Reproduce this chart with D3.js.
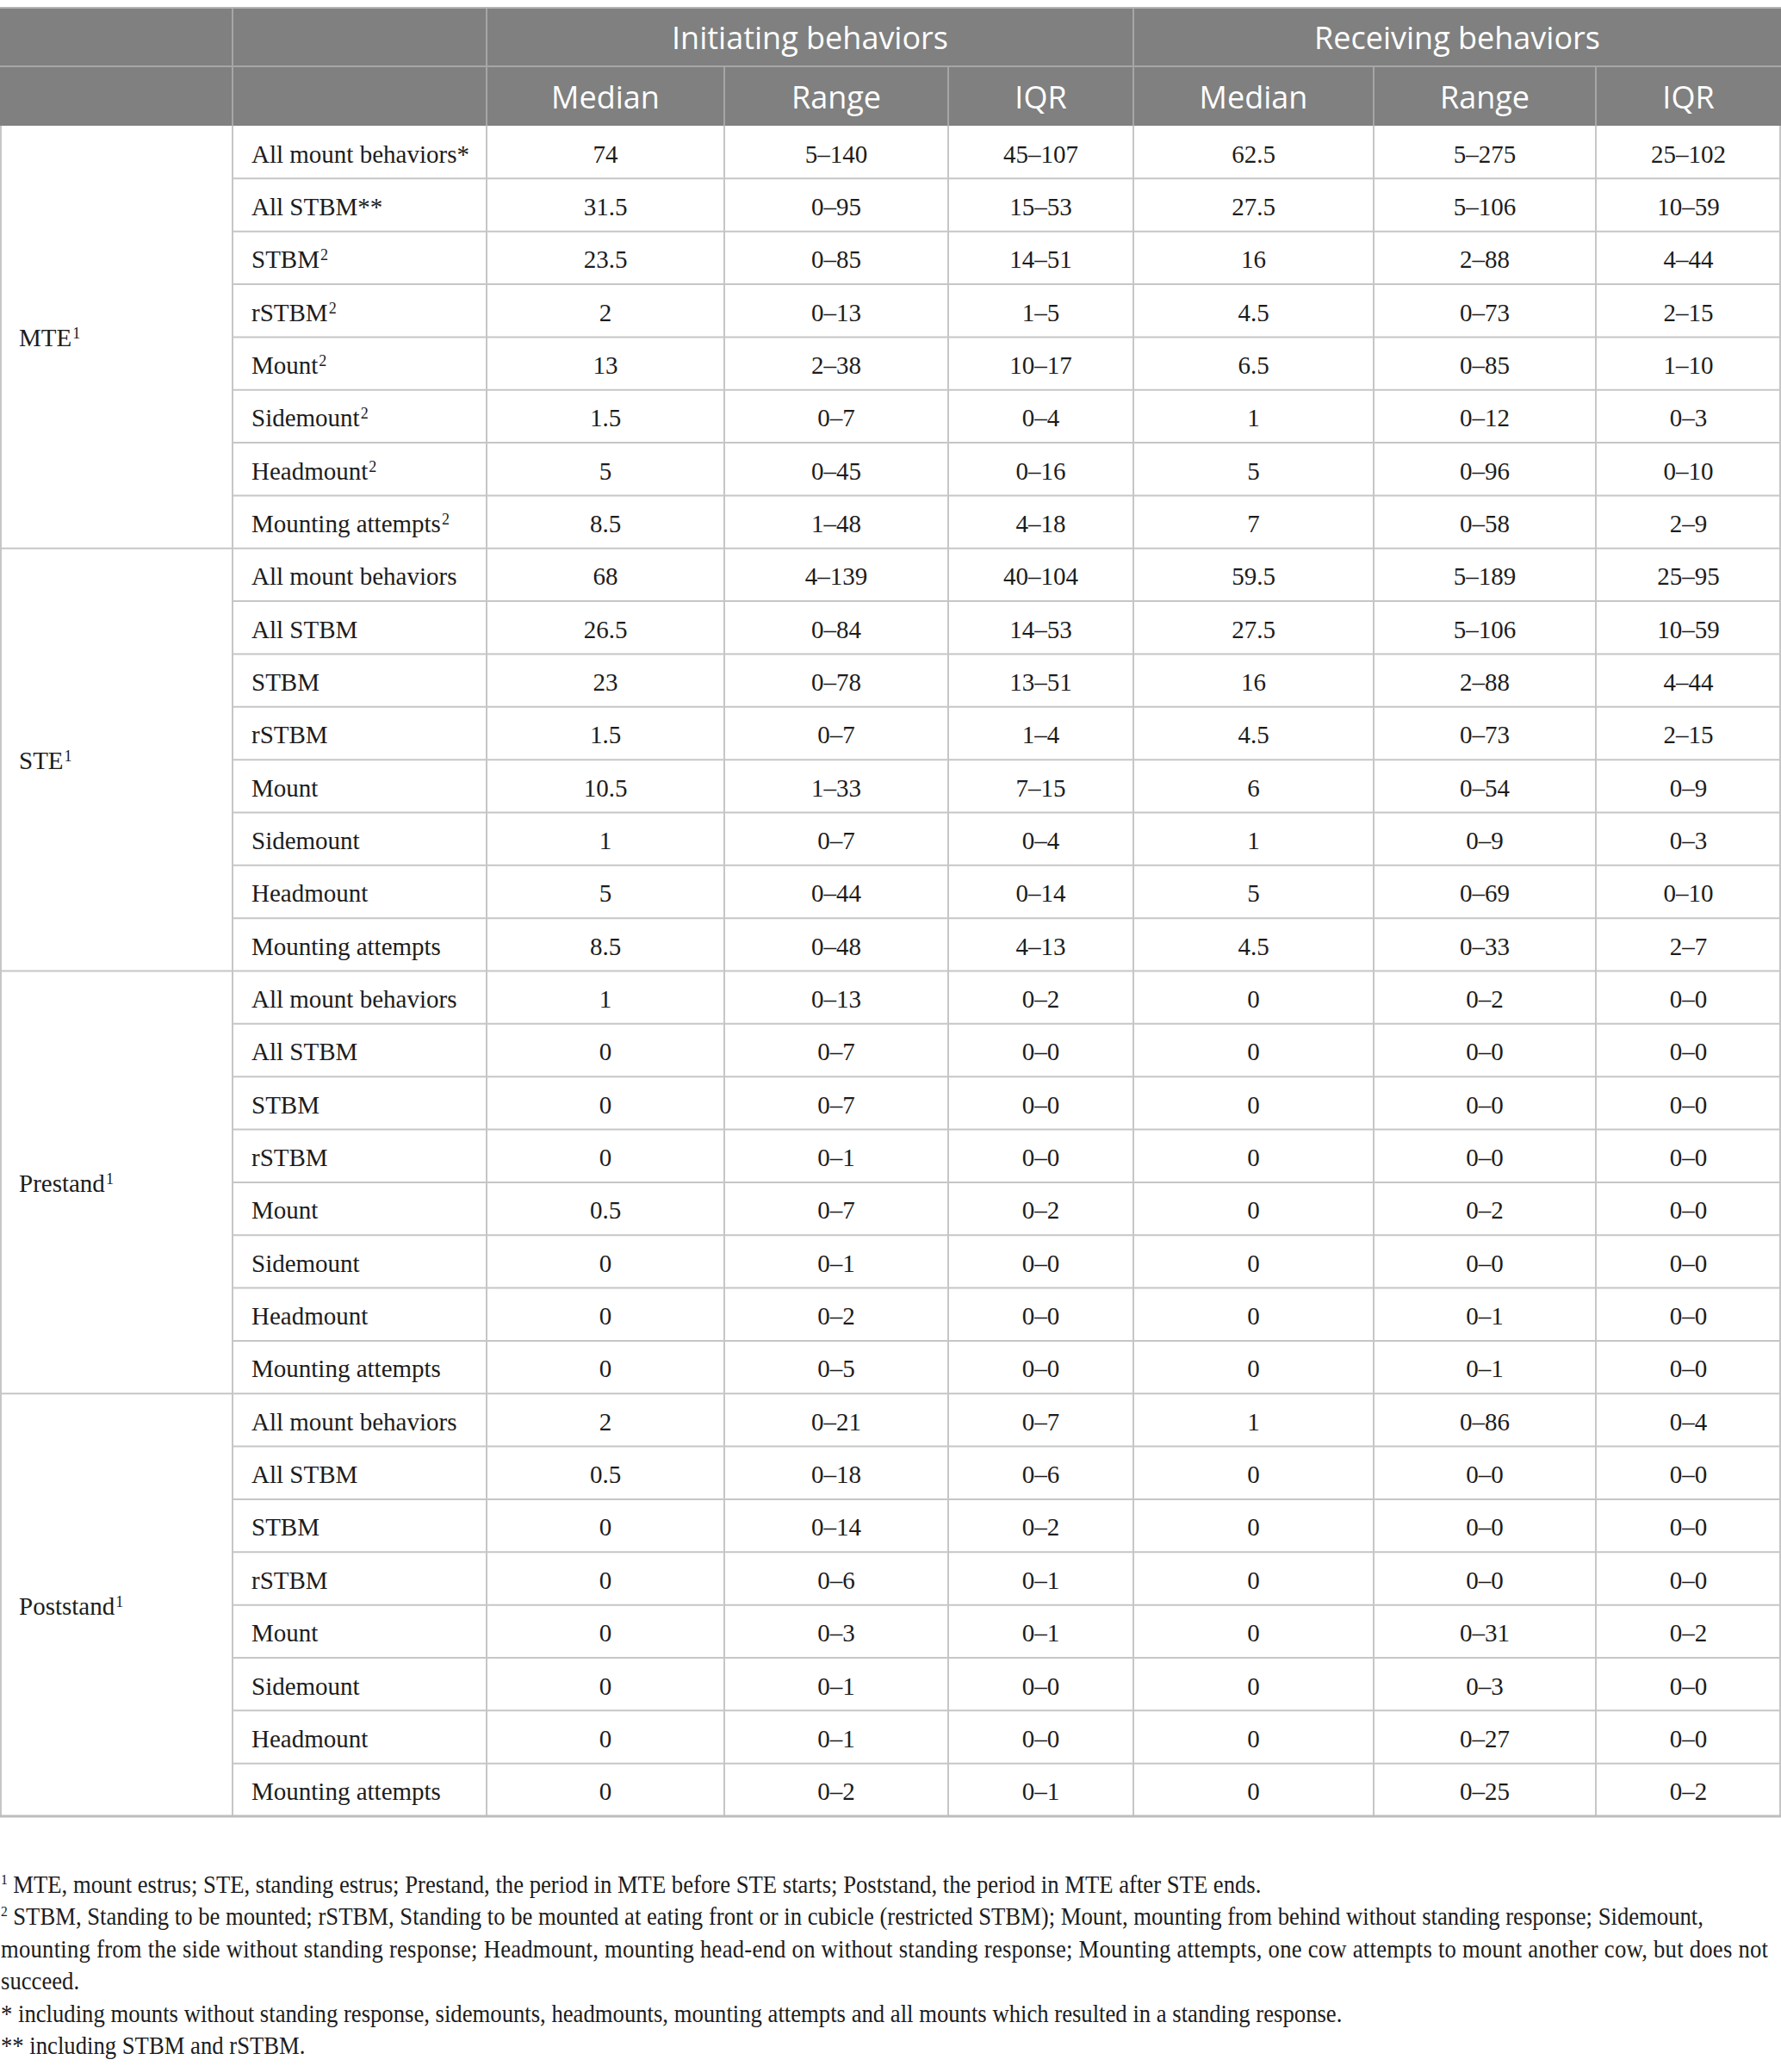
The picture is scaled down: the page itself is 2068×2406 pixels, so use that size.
<!DOCTYPE html>
<html>
<head>
<meta charset="utf-8">
<script src="https://cdn.jsdelivr.net/npm/d3@7/dist/d3.min.js"></script>
<style>
  html, body { margin: 0; padding: 0; background: #fff; }
  svg { display: block; }
</style>
</head>
<body>
<div id="table"></div>
<script>
// ━━━━━━━━━━━━━━━━━━━━━━━━━━━━━━━━━━━━━━━━━━━━━━━━━━━━━━━━━━━━━━━━━━━━━━━━━━━━━━
// Data //////////////////////////////////////////////////////////////////////////
// ━━━━━━━━━━━━━━━━━━━━━━━━━━━━━━━━━━━━━━━━━━━━━━━━━━━━━━━━━━━━━━━━━━━━━━━━━━━━━━

const groups = ['MTE', 'STE', 'Prestand', 'Poststand'];
const groupNote = '1';
const behaviors = ['All mount behaviors', 'All STBM', 'STBM', 'rSTBM', 'Mount', 'Sidemount', 'Headmount', 'Mounting attempts'];
// only the MTE block carries the marks after the behavior name
const mteMarks = [{ t: '*', sup: false }, { t: '**', sup: false }, { t: '2', sup: true }, { t: '2', sup: true },
                  { t: '2', sup: true }, { t: '2', sup: true }, { t: '2', sup: true }, { t: '2', sup: true }];

const superHeaders = ['Initiating behaviors', 'Receiving behaviors'];
const subHeaders = ['Median', 'Range', 'IQR', 'Median', 'Range', 'IQR'];

const initMedian = ['74', '31.5', '23.5', '2', '13', '1.5', '5', '8.5',
                    '68', '26.5', '23', '1.5', '10.5', '1', '5', '8.5',
                    '1', '0', '0', '0', '0.5', '0', '0', '0',
                    '2', '0.5', '0', '0', '0', '0', '0', '0'];
const initRange  = ['5–140', '0–95', '0–85', '0–13', '2–38', '0–7', '0–45', '1–48',
                    '4–139', '0–84', '0–78', '0–7', '1–33', '0–7', '0–44', '0–48',
                    '0–13', '0–7', '0–7', '0–1', '0–7', '0–1', '0–2', '0–5',
                    '0–21', '0–18', '0–14', '0–6', '0–3', '0–1', '0–1', '0–2'];
const initIQR    = ['45–107', '15–53', '14–51', '1–5', '10–17', '0–4', '0–16', '4–18',
                    '40–104', '14–53', '13–51', '1–4', '7–15', '0–4', '0–14', '4–13',
                    '0–2', '0–0', '0–0', '0–0', '0–2', '0–0', '0–0', '0–0',
                    '0–7', '0–6', '0–2', '0–1', '0–1', '0–0', '0–0', '0–1'];
const recvMedian = ['62.5', '27.5', '16', '4.5', '6.5', '1', '5', '7',
                    '59.5', '27.5', '16', '4.5', '6', '1', '5', '4.5',
                    '0', '0', '0', '0', '0', '0', '0', '0',
                    '1', '0', '0', '0', '0', '0', '0', '0'];
const recvRange  = ['5–275', '5–106', '2–88', '0–73', '0–85', '0–12', '0–96', '0–58',
                    '5–189', '5–106', '2–88', '0–73', '0–54', '0–9', '0–69', '0–33',
                    '0–2', '0–0', '0–0', '0–0', '0–2', '0–0', '0–1', '0–1',
                    '0–86', '0–0', '0–0', '0–0', '0–31', '0–3', '0–27', '0–25'];
const recvIQR    = ['25–102', '10–59', '4–44', '2–15', '1–10', '0–3', '0–10', '2–9',
                    '25–95', '10–59', '4–44', '2–15', '0–9', '0–3', '0–10', '2–7',
                    '0–0', '0–0', '0–0', '0–0', '0–0', '0–0', '0–0', '0–0',
                    '0–4', '0–0', '0–0', '0–0', '0–2', '0–0', '0–0', '0–2'];

const footnotes = [
  { mark: '1', text: 'MTE, mount estrus; STE, standing estrus; Prestand, the period in MTE before STE starts; Poststand, the period in MTE after STE ends.' },
  { mark: '2', text: 'STBM, Standing to be mounted; rSTBM, Standing to be mounted at eating front or in cubicle (restricted STBM); Mount, mounting from behind without standing response; Sidemount,' },
  { mark: '',  text: 'mounting from the side without standing response; Headmount, mounting head-end on without standing response; Mounting attempts, one cow attempts to mount another cow, but does not', justify: true },
  { mark: '',  text: 'succeed.' },
  { mark: '',  text: '* including mounts without standing response, sidemounts, headmounts, mounting attempts and all mounts which resulted in a standing response.' },
  { mark: '',  text: '** including STBM and rSTBM.' }
];

// ━━━━━━━━━━━━━━━━━━━━━━━━━━━━━━━━━━━━━━━━━━━━━━━━━━━━━━━━━━━━━━━━━━━━━━━━━━━━━━
// Layout ////////////////////////////////////////////////////////////////////////
// ━━━━━━━━━━━━━━━━━━━━━━━━━━━━━━━━━━━━━━━━━━━━━━━━━━━━━━━━━━━━━━━━━━━━━━━━━━━━━━

const width = 2068, height = 2406;
const tableTop = 9, head1H = 68, head2H = 69;
const bodyTop = tableTop + head1H + head2H;
const bodyBottom = 2109;

const colKeys = ['group', 'behavior', 'iMed', 'iRange', 'iIQR', 'rMed', 'rRange', 'rIQR'];
const colWidths = [270, 295, 276, 260, 215, 279, 258, 215];
const colEdges = [0, ...d3.cumsum(colWidths)];
const xLeft = d3.scaleOrdinal().domain(colKeys).range(colEdges.slice(0, -1));
const xRight = d3.scaleOrdinal().domain(colKeys).range(colEdges.slice(1));
const xMid = k => (xLeft(k) + xRight(k)) / 2;

const rowIndex = d3.range(groups.length * behaviors.length);
const y = d3.scaleBand().domain(rowIndex).range([bodyTop, bodyBottom]);
const yGroup = d3.scaleBand().domain(groups).range([bodyTop, bodyBottom]);

const headFill = '#7f807f';
const headLine = '#a6a6a6';
const gridLine = '#c6c6c6';
const ink = '#1c1c1c';
const serif = '"Liberation Serif", "DejaVu Serif", serif';
const sans = '"Open Sans", "Noto Sans", sans-serif';
const bodySize = 29, supSize = 18, supRise = 9;

const rows = rowIndex.map(i => ({
  i,
  group: groups[Math.floor(i / behaviors.length)],
  behavior: behaviors[i % behaviors.length],
  mark: Math.floor(i / behaviors.length) === 0 ? mteMarks[i % behaviors.length] : null,
  vals: [initMedian[i], initRange[i], initIQR[i], recvMedian[i], recvRange[i], recvIQR[i]]
}));

// ━━━━━━━━━━━━━━━━━━━━━━━━━━━━━━━━━━━━━━━━━━━━━━━━━━━━━━━━━━━━━━━━━━━━━━━━━━━━━━
// SVG setup /////////////////////////////////////////////////////////////////////
// ━━━━━━━━━━━━━━━━━━━━━━━━━━━━━━━━━━━━━━━━━━━━━━━━━━━━━━━━━━━━━━━━━━━━━━━━━━━━━━

const svg = d3.select('#table').append('svg')
  .attr('viewBox', [0, 0, width, height])
  .attr('width', width)
  .attr('height', height);

svg.append('rect').attr('width', width).attr('height', height).attr('fill', '#fff');

const header = svg.append('g').attr('id', 'header');
const grid = svg.append('g').attr('id', 'grid');
const cells = svg.append('g').attr('id', 'cells');
const notes = svg.append('g').attr('id', 'footnotes');

// Header ////////////////////////////////////////////////////////////////////////

header.append('rect')
  .attr('x', 0).attr('y', tableTop)
  .attr('width', width).attr('height', head1H + head2H)
  .attr('fill', headFill);

// header lines: spans in row 1, every column in row 2
const head1Edges = [xRight('group'), xRight('behavior'), xRight('iIQR')];
const head2Edges = colEdges.slice(1, -1);

header.append('g').selectAll('line')
  .data(head1Edges)
  .join('line')
  .attr('x1', d => d).attr('x2', d => d)
  .attr('y1', tableTop).attr('y2', tableTop + head1H)
  .attr('stroke', headLine).attr('stroke-width', 2);

header.append('g').selectAll('line')
  .data(head2Edges)
  .join('line')
  .attr('x1', d => d).attr('x2', d => d)
  .attr('y1', tableTop + head1H).attr('y2', bodyTop)
  .attr('stroke', headLine).attr('stroke-width', 2);

header.append('line')
  .attr('x1', 0).attr('x2', width)
  .attr('y1', tableTop + head1H).attr('y2', tableTop + head1H)
  .attr('stroke', headLine).attr('stroke-width', 2);

header.append('line')
  .attr('x1', 0).attr('x2', width)
  .attr('y1', tableTop).attr('y2', tableTop)
  .attr('stroke', '#b4b4b4').attr('stroke-width', 2);

const spanMid = [(xLeft('iMed') + xRight('iIQR')) / 2, (xLeft('rMed') + xRight('rIQR')) / 2];

header.append('g').selectAll('text')
  .data(superHeaders)
  .join('text')
  .attr('x', (d, i) => spanMid[i])
  .attr('y', tableTop + head1H / 2)
  .attr('dy', '0.39em')
  .attr('text-anchor', 'middle')
  .attr('font-family', sans)
  .attr('font-size', 36)
  .attr('fill', '#fff')
  .text(d => d);

header.append('g').selectAll('text')
  .data(subHeaders)
  .join('text')
  .attr('x', (d, i) => xMid(colKeys[i + 2]))
  .attr('y', tableTop + head1H + head2H / 2)
  .attr('dy', '0.4em')
  .attr('text-anchor', 'middle')
  .attr('font-family', sans)
  .attr('font-size', 36)
  .attr('fill', '#fff')
  .text(d => d);

// Grid //////////////////////////////////////////////////////////////////////////

// row lines: full width at group edges, from column 2 on elsewhere
grid.append('g').selectAll('line')
  .data(rowIndex.slice(1))
  .join('line')
  .attr('x1', d => d % behaviors.length === 0 ? 0 : xLeft('behavior'))
  .attr('x2', width)
  .attr('y1', d => y(d)).attr('y2', d => y(d))
  .attr('stroke', gridLine).attr('stroke-width', 2);

grid.append('g').selectAll('line')
  .data(colEdges)
  .join('line')
  .attr('x1', d => Math.min(Math.max(d, 1), width - 1))
  .attr('x2', d => Math.min(Math.max(d, 1), width - 1))
  .attr('y1', bodyTop).attr('y2', bodyBottom)
  .attr('stroke', gridLine).attr('stroke-width', 2);

grid.append('line')
  .attr('x1', 0).attr('x2', width)
  .attr('y1', bodyBottom).attr('y2', bodyBottom)
  .attr('stroke', '#bdbdbd').attr('stroke-width', 3);

// Cells /////////////////////////////////////////////////////////////////////////

const addSup = (sel, txt) => {
  sel.append('tspan')
    .attr('font-size', supSize).attr('dy', -supRise).attr('dx', 1)
    .text(txt);
};

const groupText = cells.append('g').selectAll('text')
  .data(groups)
  .join('text')
  .attr('x', 22)
  .attr('y', d => yGroup(d) + yGroup.bandwidth() / 2)
  .attr('dy', '0.38em')
  .attr('font-family', serif)
  .attr('font-size', bodySize)
  .attr('fill', ink);
groupText.append('tspan').text(d => d);
addSup(groupText, groupNote);

const behaviorText = cells.append('g').selectAll('text')
  .data(rows)
  .join('text')
  .attr('x', xLeft('behavior') + 22)
  .attr('y', d => y(d.i) + y.bandwidth() / 2)
  .attr('dy', '0.41em')
  .attr('font-family', serif)
  .attr('font-size', bodySize)
  .attr('fill', ink);
behaviorText.append('tspan').text(d => d.behavior);
behaviorText.filter(d => d.mark && !d.mark.sup)
  .append('tspan').text(d => d.mark.t);
addSup(behaviorText.filter(d => d.mark && d.mark.sup), d => d.mark.t);

cells.append('g').selectAll('g')
  .data(rows)
  .join('g')
  .selectAll('text')
  .data(d => d.vals.map((v, j) => ({ v, j, i: d.i })))
  .join('text')
  .attr('x', d => xMid(colKeys[d.j + 2]))
  .attr('y', d => y(d.i) + y.bandwidth() / 2)
  .attr('dy', '0.41em')
  .attr('text-anchor', 'middle')
  .attr('font-family', serif)
  .attr('font-size', bodySize)
  .attr('fill', ink)
  .text(d => d.v);

// Footnotes /////////////////////////////////////////////////////////////////////

// the footnote face is a condensed serif: squeeze Liberation Serif a little
const noteTop = 2198, noteStep = 37.4, noteSize = 29, noteSqueeze = 0.92;

const noteText = notes.selectAll('text')
  .data(footnotes)
  .join('text')
  .attr('transform', (d, i) => `translate(1,${noteTop + i * noteStep}) scale(${noteSqueeze},1)`)
  .attr('font-family', serif)
  .attr('font-size', noteSize)
  .attr('fill', ink)
  .attr('textLength', d => d.justify ? 2052 / noteSqueeze : null)
  .attr('lengthAdjust', 'spacing');
noteText.filter(d => d.mark)
  .append('tspan')
  .attr('font-size', 17).attr('dy', -10)
  .text(d => d.mark);
noteText.append('tspan')
  .attr('dy', d => d.mark ? 10 : null)
  .attr('dx', d => d.mark ? 7 : null)
  .text(d => d.text);
</script>
</body>
</html>
